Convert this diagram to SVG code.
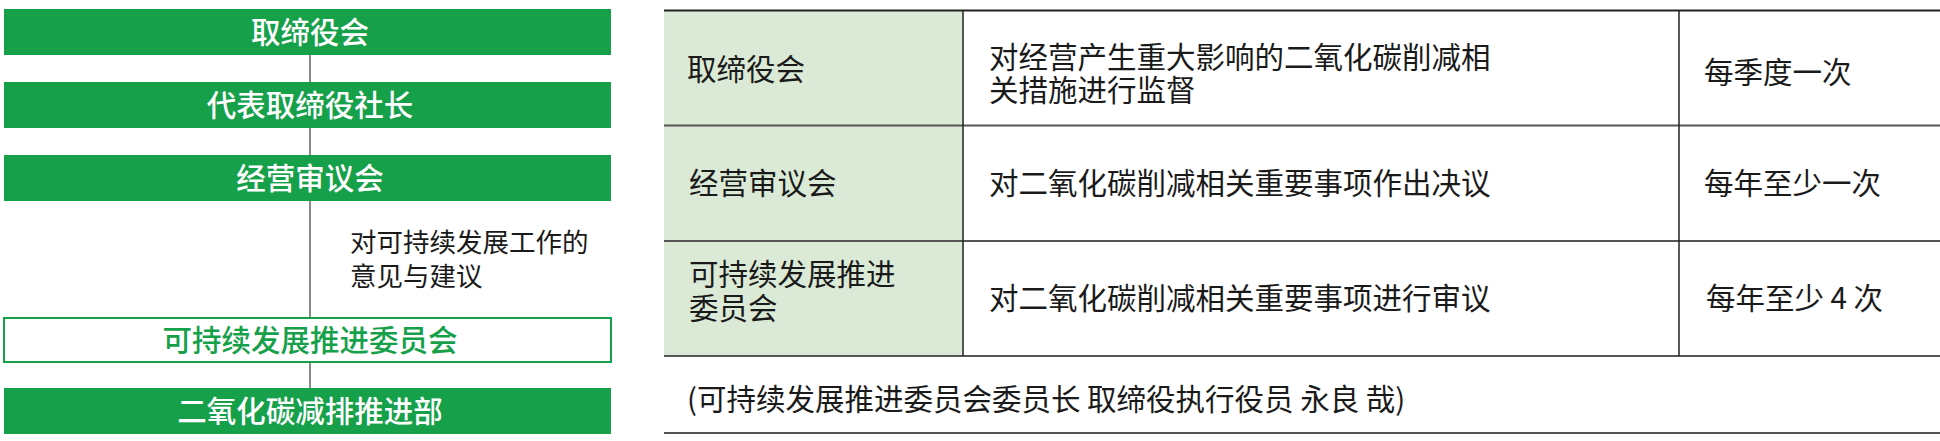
<svg xmlns="http://www.w3.org/2000/svg" width="1940" height="441" viewBox="0 0 1940 441">
<style>
  text { font-family: "Noto Sans CJK SC", "Noto Sans", sans-serif; }
  .box { fill: #16a04a; }
  .obox { fill: #ffffff; stroke: #16a04a; stroke-width: 2; }
  .lbl { fill: #ffffff; font-size: 29.5px; font-weight: 500; text-anchor: middle; }
  .glbl { fill: #16a04a; font-size: 29.5px; font-weight: 500; text-anchor: middle; }
  .note { fill: #1a1a1a; font-size: 26.5px; }
  .conn { stroke: #8a8a8a; stroke-width: 2; fill: none; }
  .t { fill: #1a1a1a; font-size: 29.5px; }
  .hl { stroke: #555555; stroke-width: 2; }
  .hk { stroke: #222222; stroke-width: 2; }
  .vl { stroke: #222222; stroke-width: 1.5; }
  .cell1 { fill: #dbead6; }
</style>
<rect x="0" y="0" width="1940" height="441" fill="#ffffff"/>

<g id="connectors">
  <line class="conn" x1="310" y1="55" x2="310" y2="82"/>
  <line class="conn" x1="310" y1="128" x2="310" y2="155"/>
  <line class="conn" x1="310" y1="201" x2="310" y2="317"/>
  <line class="conn" x1="310" y1="363" x2="310" y2="388"/>
</g>

<g id="node-board">
  <rect class="box" x="4" y="9" width="607" height="46"/>
  <text class="lbl" x="310" y="43">取缔役会</text>
</g>
<g id="node-president">
  <rect class="box" x="4" y="82" width="607" height="46"/>
  <text class="lbl" x="310" y="116">代表取缔役社长</text>
</g>
<g id="node-management">
  <rect class="box" x="4" y="155" width="607" height="46"/>
  <text class="lbl" x="310" y="189">经营审议会</text>
</g>
<g id="note-advice">
  <text class="note" x="350" y="252">对可持续发展工作的</text>
  <text class="note" x="350" y="286">意见与建议</text>
</g>
<g id="node-committee">
  <rect class="obox" x="4" y="318" width="607" height="44"/>
  <text class="glbl" x="310" y="351">可持续发展推进委员会</text>
</g>
<g id="node-co2dept">
  <rect class="box" x="4" y="388" width="607" height="46"/>
  <text class="lbl" x="310" y="422">二氧化碳减排推进部</text>
</g>

<g id="table">
  <rect class="cell1" x="664" y="10" width="299" height="346"/>
  <line class="hk" x1="664" y1="10.5" x2="1940" y2="10.5"/>
  <line class="hl" x1="664" y1="125.5" x2="1940" y2="125.5"/>
  <line class="hl" x1="664" y1="241" x2="1940" y2="241"/>
  <line class="hl" x1="664" y1="356" x2="1940" y2="356"/>
  <line class="hl" x1="664" y1="433" x2="1940" y2="433"/>
  <line class="vl" x1="963" y1="10" x2="963" y2="356"/>
  <line class="vl" x1="1679" y1="10" x2="1679" y2="356"/>

  <text class="t" x="687" y="80">取缔役会</text>
  <text class="t" x="989" y="68">对经营产生重大影响的二氧化碳削减相</text>
  <text class="t" x="989" y="101">关措施进行监督</text>
  <text class="t" x="1704" y="83">每季度一次</text>

  <text class="t" x="689" y="194">经营审议会</text>
  <text class="t" x="989" y="194">对二氧化碳削减相关重要事项作出决议</text>
  <text class="t" x="1704" y="194">每年至少一次</text>

  <text class="t" x="689" y="285">可持续发展推进</text>
  <text class="t" x="689" y="319">委员会</text>
  <text class="t" x="989" y="309">对二氧化碳削减相关重要事项进行审议</text>
  <text class="t" x="1706" y="309">每年至少 4 次</text>

  <text class="t" x="687" y="410">(可持续发展推进委员会委员长 取缔役执行役员 永良 哉)</text>
</g>
</svg>
